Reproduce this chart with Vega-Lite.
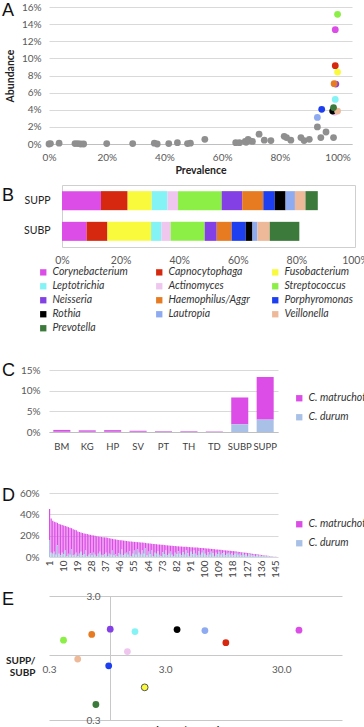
{
  "$schema": "https://vega.github.io/schema/vega-lite/v6.json",
  "padding": {"left": 2, "top": 2, "right": 0, "bottom": 0},
  "config": {
    "font": "Lato",
    "view": {"stroke": null},
    "axis": {
      "labelFont": "Lato", "labelFontSize": 10, "labelColor": "#595959", "labelFlush": false, "labelOverlap": false,
      "titleFont": "Lato", "titleFontSize": 10.5, "titleColor": "#222222", "titleFontWeight": "bold",
      "gridColor": "#d9d9d9", "domainColor": "#bfbfbf", "ticks": false
    },
    "legend": {
      "labelFont": "Lato", "labelFontSize": 10.5, "labelFontStyle": "italic", "labelColor": "#333333",
      "symbolType": "square", "symbolStrokeWidth": 0, "symbolSize": 40, "title": null
    },
    "title": {
      "font": "Liberation Sans", "fontSize": 18, "fontWeight": "normal", "color": "#111111",
      "anchor": "start", "frame": "group", "dx": -47
    }
  },
  "datasets": {
    "genera": [
      {"genus": "Corynebacterium", "k": 1, "prev": 0.992, "abund": 13.35, "supp": 13.3, "subp": 8.4, "pnp": 42.6, "ratio": 1.59},
      {"genus": "Capnocytophaga", "k": 2, "prev": 0.992, "abund": 9.15, "supp": 9.1, "subp": 7.1, "pnp": 10.0, "ratio": 1.26},
      {"genus": "Fusobacterium", "k": 3, "prev": 1.0, "abund": 8.4, "supp": 8.2, "subp": 14.9, "pnp": 2.0, "ratio": 0.55},
      {"genus": "Leptotrichia", "k": 4, "prev": 0.992, "abund": 5.2, "supp": 5.4, "subp": 3.5, "pnp": 1.65, "ratio": 1.55},
      {"genus": "Actinomyces", "k": 5, "prev": 0.99, "abund": 3.7, "supp": 3.6, "subp": 3.2, "pnp": 1.42, "ratio": 1.07},
      {"genus": "Streptococcus", "k": 6, "prev": 1.0, "abund": 15.15, "supp": 14.9, "subp": 11.6, "pnp": 0.4, "ratio": 1.32},
      {"genus": "Neisseria", "k": 7, "prev": 0.994, "abund": 7.0, "supp": 7.0, "subp": 4.1, "pnp": 1.01, "ratio": 1.62},
      {"genus": "Haemophilus/Aggr", "k": 8, "prev": 0.988, "abund": 7.05, "supp": 7.2, "subp": 5.1, "pnp": 0.7, "ratio": 1.47},
      {"genus": "Porphyromonas", "k": 9, "prev": 0.945, "abund": 4.05, "supp": 3.9, "subp": 4.8, "pnp": 0.98, "ratio": 0.82},
      {"genus": "Rothia", "k": 10, "prev": 0.983, "abund": 3.85, "supp": 3.7, "subp": 2.3, "pnp": 3.8, "ratio": 1.61},
      {"genus": "Lautropia", "k": 11, "prev": 0.93, "abund": 3.1, "supp": 3.2, "subp": 1.7, "pnp": 6.6, "ratio": 1.58},
      {"genus": "Veillonella", "k": 12, "prev": 1.0, "abund": 3.85, "supp": 3.6, "subp": 4.2, "pnp": 0.53, "ratio": 0.93},
      {"genus": "Prevotella", "k": 13, "prev": 0.986, "abund": 4.25, "supp": 4.2, "subp": 10.1, "pnp": 0.76, "ratio": 0.4}
    ],
    "others": [
      {"prev": 0.0, "abund": 0.0}, {"prev": 0.005, "abund": 0.05}, {"prev": 0.035, "abund": 0.1},
      {"prev": 0.09, "abund": 0.05}, {"prev": 0.10, "abund": 0.05}, {"prev": 0.11, "abund": 0.0},
      {"prev": 0.12, "abund": 0.0}, {"prev": 0.20, "abund": 0.05}, {"prev": 0.29, "abund": 0.05},
      {"prev": 0.365, "abund": 0.1}, {"prev": 0.375, "abund": 0.0}, {"prev": 0.415, "abund": 0.05},
      {"prev": 0.445, "abund": 0.15}, {"prev": 0.48, "abund": 0.05}, {"prev": 0.49, "abund": 0.1},
      {"prev": 0.54, "abund": 0.55}, {"prev": 0.647, "abund": 0.15}, {"prev": 0.66, "abund": 0.15},
      {"prev": 0.68, "abund": 0.3}, {"prev": 0.683, "abund": 0.2}, {"prev": 0.69, "abund": 0.55},
      {"prev": 0.694, "abund": 0.4}, {"prev": 0.705, "abund": 0.3}, {"prev": 0.728, "abund": 1.15},
      {"prev": 0.746, "abund": 0.45}, {"prev": 0.769, "abund": 0.4}, {"prev": 0.815, "abund": 0.9},
      {"prev": 0.823, "abund": 0.75}, {"prev": 0.838, "abund": 0.45}, {"prev": 0.873, "abund": 0.75},
      {"prev": 0.884, "abund": 0.4}, {"prev": 0.902, "abund": 0.55}, {"prev": 0.93, "abund": 2.0},
      {"prev": 0.942, "abund": 0.75}, {"prev": 0.96, "abund": 1.4}, {"prev": 0.986, "abund": 0.75}
    ],
    "sites": [
      {"site": "BM", "m": 0.45, "d": 0.05}, {"site": "KG", "m": 0.35, "d": 0.05},
      {"site": "HP", "m": 0.4, "d": 0.05}, {"site": "SV", "m": 0.25, "d": 0.05},
      {"site": "PT", "m": 0.15, "d": 0.05}, {"site": "TH", "m": 0.15, "d": 0.03},
      {"site": "TD", "m": 0.1, "d": 0.02}, {"site": "SUBP", "m": 6.5, "d": 1.85},
      {"site": "SUPP", "m": 10.3, "d": 3.0}
    ],
    "samples": [
      {"n":1,"m":29,"d":16},{"n":2,"m":32,"d":4},{"n":3,"m":31,"d":3},{"n":4,"m":28,"d":5},{"n":5,"m":30.5,"d":2},
      {"n":6,"m":21,"d":11},{"n":7,"m":28,"d":3},{"n":8,"m":29,"d":1.5},{"n":9,"m":26,"d":4},{"n":10,"m":27,"d":2.5},
      {"n":11,"m":23,"d":6},{"n":12,"m":27.5,"d":1},{"n":13,"m":25,"d":3},{"n":14,"m":25.5,"d":2},{"n":15,"m":20,"d":7},
      {"n":16,"m":24.5,"d":1.5},{"n":17,"m":23.5,"d":2},{"n":18,"m":21,"d":4},{"n":19,"m":23,"d":1},{"n":20,"m":20.5,"d":3},
      {"n":21,"m":18,"d":5},{"n":22,"m":21,"d":1.5},{"n":23,"m":19.5,"d":2.5},{"n":24,"m":15.8,"d":6},{"n":25,"m":20.5,"d":1},
      {"n":26,"m":19,"d":2},{"n":27,"m":17.3,"d":3.5},{"n":28,"m":19,"d":1.5},{"n":29,"m":16.2,"d":4},{"n":30,"m":18,"d":2},
      {"n":31,"m":18.5,"d":1},{"n":32,"m":16.2,"d":3},{"n":33,"m":14,"d":5},{"n":34,"m":16.8,"d":2},{"n":35,"m":17.1,"d":1.5},
      {"n":36,"m":15.9,"d":2.5},{"n":37,"m":14.2,"d":4},{"n":38,"m":17,"d":1},{"n":39,"m":14.6,"d":3},{"n":40,"m":15.3,"d":2},
      {"n":41,"m":11,"d":6},{"n":42,"m":15.2,"d":1.5},{"n":43,"m":14,"d":2.5},{"n":44,"m":15.2,"d":1},{"n":45,"m":12.5,"d":3.5},
      {"n":46,"m":13.8,"d":2},{"n":47,"m":8.6,"d":7},{"n":48,"m":13.9,"d":1.5},{"n":49,"m":12.2,"d":3},{"n":50,"m":11,"d":4},
      {"n":51,"m":12.8,"d":2},{"n":52,"m":9.1,"d":5.5},{"n":53,"m":13.5,"d":1},{"n":54,"m":11.3,"d":3},{"n":55,"m":8.2,"d":6},
      {"n":56,"m":12,"d":2},{"n":57,"m":6.4,"d":7.5},{"n":58,"m":9.8,"d":4},{"n":59,"m":11.6,"d":2},{"n":60,"m":7.5,"d":6},
      {"n":61,"m":10.3,"d":3},{"n":62,"m":5.2,"d":8},{"n":63,"m":11.5,"d":1.5},{"n":64,"m":7.8,"d":5},{"n":65,"m":10.1,"d":2.5},
      {"n":66,"m":6,"d":6.5},{"n":67,"m":11.3,"d":1},{"n":68,"m":8.2,"d":4},{"n":69,"m":9,"d":3},{"n":70,"m":6.3,"d":5.5},
      {"n":71,"m":9.7,"d":2},{"n":72,"m":10.5,"d":1},{"n":73,"m":6.9,"d":4.5},{"n":74,"m":8.7,"d":2.5},{"n":75,"m":5,"d":6},
      {"n":76,"m":9.4,"d":1.5},{"n":77,"m":7.8,"d":3},{"n":78,"m":5.6,"d":5},{"n":79,"m":8.5,"d":2},{"n":80,"m":9.4,"d":1},
      {"n":81,"m":6.3,"d":4},{"n":82,"m":7.6,"d":2.5},{"n":83,"m":4.5,"d":5.5},{"n":84,"m":6.9,"d":3},{"n":85,"m":8.3,"d":1.5},
      {"n":86,"m":5.2,"d":4.5},{"n":87,"m":7.6,"d":2},{"n":88,"m":3.5,"d":6},{"n":89,"m":5.9,"d":3.5},{"n":90,"m":8.3,"d":1},
      {"n":91,"m":4.2,"d":5},{"n":92,"m":6.6,"d":2.5},{"n":93,"m":3,"d":6},{"n":94,"m":5.9,"d":3},{"n":95,"m":7.3,"d":1.5},
      {"n":96,"m":3.2,"d":5.5},{"n":97,"m":6.5,"d":2},{"n":98,"m":4.4,"d":4},{"n":99,"m":2.3,"d":6},{"n":100,"m":5.2,"d":3},
      {"n":101,"m":6.5,"d":1.5},{"n":102,"m":3.4,"d":4.5},{"n":103,"m":5.7,"d":2},{"n":104,"m":2.6,"d":5},{"n":105,"m":3.9,"d":3.5},
      {"n":106,"m":6.3,"d":1},{"n":107,"m":3.1,"d":4},{"n":108,"m":4.5,"d":2.5},{"n":109,"m":1.8,"d":5},{"n":110,"m":4.7,"d":2},
      {"n":111,"m":3,"d":3.5},{"n":112,"m":1.9,"d":4.5},{"n":113,"m":4.7,"d":1.5},{"n":114,"m":3.1,"d":3},{"n":115,"m":1.9,"d":4},
      {"n":116,"m":3.8,"d":2},{"n":117,"m":2.1,"d":3.5},{"n":118,"m":4,"d":1.5},{"n":119,"m":2.3,"d":3},{"n":120,"m":1.1,"d":4},
      {"n":121,"m":2.9,"d":2},{"n":122,"m":1.7,"d":3},{"n":123,"m":3,"d":1.5},{"n":124,"m":0.8,"d":3.5},{"n":125,"m":2.1,"d":2},
      {"n":126,"m":1.4,"d":2.5},{"n":127,"m":2.7,"d":1},{"n":128,"m":1,"d":2.5},{"n":129,"m":1.3,"d":2},{"n":130,"m":1.6,"d":1.5},
      {"n":131,"m":0.9,"d":2},{"n":132,"m":1.7,"d":1},{"n":133,"m":0.7,"d":1.8},{"n":134,"m":1.1,"d":1.2},{"n":135,"m":0.6,"d":1.5},
      {"n":136,"m":1.1,"d":0.8},{"n":137,"m":0.5,"d":1.2},{"n":138,"m":0.5,"d":1},{"n":139,"m":0.7,"d":0.6},{"n":140,"m":0.3,"d":0.8},
      {"n":141,"m":0.4,"d":0.5},{"n":142,"m":0.3,"d":0.4},{"n":143,"m":0.2,"d":0.3},{"n":144,"m":0.15,"d":0.2},{"n":145,"m":0.1,"d":0.1},
      {"n":146,"m":0.05,"d":0.05}
    ]
  },
  "bounds": "flush",
  "spacing": 0,
  "resolve": {"scale": {"color": "independent"}, "legend": {"color": "independent"}},
  "vconcat": [
    {
      "title": {"text": "A", "offset": -18},
      "width": 303,
      "height": 137,
      "encoding": {
        "x": {
          "field": "prev", "type": "quantitative",
          "scale": {"domain": [0, 1.05], "nice": false},
          "axis": {"values": [0, 0.2, 0.4, 0.6, 0.8, 1], "format": ".0%", "grid": false, "domain": true,
                   "labelPadding": 8, "title": "Prevalence", "titlePadding": 3}
        },
        "y": {
          "field": "abund", "type": "quantitative",
          "scale": {"domain": [0, 16], "nice": false},
          "axis": {"values": [0, 2, 4, 6, 8, 10, 12, 14, 16], "labelExpr": "datum.value + '%'", "labelOverlap": false,
                   "grid": true, "domain": false, "labelPadding": 8, "title": "Abundance", "titlePadding": 6}
        }
      },
      "layer": [
        {
          "data": {"name": "others"},
          "mark": {"type": "circle", "size": 46, "opacity": 1, "color": "#8f8f8f"}
        },
        {
          "data": {"name": "genera"},
          "mark": {"type": "circle", "size": 46, "opacity": 1},
          "encoding": {
            "color": {
              "field": "genus", "type": "nominal",
              "scale": {
                "domain": ["Corynebacterium", "Capnocytophaga", "Fusobacterium", "Leptotrichia", "Actinomyces", "Streptococcus", "Neisseria", "Haemophilus/Aggr", "Porphyromonas", "Rothia", "Lautropia", "Veillonella", "Prevotella"],
                "range": ["#db4de6", "#d6280e", "#fafa3c", "#84f3f5", "#efc6ee", "#8bef46", "#8341e5", "#e77b22", "#1e3ff0", "#000000", "#8eabf1", "#edb998", "#3c7a3c"]
              },
              "legend": null
            }
          }
        }
      ]
    },
    {"width": 1, "height": 41, "data": {"values": []}, "mark": "point"},
    {
      "title": {"text": "B", "offset": -20},
      "width": 306,
      "height": 62,
      "data": {"name": "genera"},
      "transform": [{"fold": ["supp", "subp"], "as": ["site", "v"]}],
      "layer": [
        {
          "mark": {"type": "bar"},
          "encoding": {
            "y": {
              "field": "site", "type": "nominal", "sort": ["supp", "subp"],
              "scale": {"paddingInner": 0.38, "paddingOuter": 0.2},
              "axis": {"title": null, "labelExpr": "upper(datum.label)", "labelFontSize": 10.5, "labelColor": "#222222",
                       "labelPadding": -1, "domain": false, "ticks": false}
            },
            "x": {
              "field": "v", "type": "quantitative", "stack": "zero",
              "scale": {"domain": [0, 100], "range": [13, 306], "nice": false},
              "axis": {"values": [0, 20, 40, 60, 80, 100], "labelExpr": "datum.value + '%'", "title": null,
                       "grid": true, "gridColor": "#cfcfcf",
                       "gridOpacity": {"condition": {"test": "datum.value == 0 || datum.value == 100", "value": 1}, "value": 0},
                       "domain": true, "domainColor": "#cfcfcf", "labelPadding": 8, "labelFontSize": 10.5}
            },
            "color": {
              "field": "genus", "type": "nominal",
              "scale": {
                "domain": ["Corynebacterium", "Capnocytophaga", "Fusobacterium", "Leptotrichia", "Actinomyces", "Streptococcus", "Neisseria", "Haemophilus/Aggr", "Porphyromonas", "Rothia", "Lautropia", "Veillonella", "Prevotella"],
                "range": ["#db4de6", "#d6280e", "#fafa3c", "#84f3f5", "#efc6ee", "#8bef46", "#8341e5", "#e77b22", "#1e3ff0", "#000000", "#8eabf1", "#edb998", "#3c7a3c"]
              },
              "legend": {"orient": "none", "legendX": -11, "legendY": 82, "columns": 3, "direction": "horizontal",
                         "gridAlign": "all", "columnPadding": 20, "rowPadding": 3, "labelLimit": 110, "labelOffset": 4}
            },
            "order": {"field": "k", "type": "quantitative"}
          }
        },
        {
          "mark": {"type": "bar", "opacity": 0},
          "encoding": {
            "y": {"field": "site", "type": "nominal", "sort": ["supp", "subp"]},
            "x": {
              "field": "v", "type": "quantitative", "stack": "zero",
              "axis": {"orient": "top", "labels": false, "grid": false, "domain": true, "domainColor": "#cfcfcf", "title": null}
            },
            "order": {"field": "k", "type": "quantitative"}
          }
        }
      ],
      "resolve": {"axis": {"x": "independent"}}
    },
    {"width": 1, "height": 123, "data": {"values": []}, "mark": "point"},
    {
      "title": {"text": "C", "offset": -15},
      "width": 229,
      "height": 62,
      "data": {"name": "sites"},
      "transform": [{"fold": ["m", "d"], "as": ["sp", "v"]}],
      "mark": {"type": "bar"},
      "encoding": {
        "x": {
          "field": "site", "type": "nominal", "sort": null,
          "scale": {"paddingInner": 0.33, "paddingOuter": 0.17},
          "axis": {"title": null, "labelAngle": 0, "labelColor": "#404040", "labelPadding": 9, "labelFontSize": 9.5, "domain": true}
        },
        "y": {
          "field": "v", "type": "quantitative", "stack": "zero",
          "scale": {"domain": [0, 15], "nice": false},
          "axis": {"values": [0, 5, 10, 15], "labelExpr": "datum.value + '%'", "title": null, "grid": true,
                   "domain": false, "labelPadding": 9}
        },
        "color": {
          "field": "sp", "type": "nominal",
          "scale": {"domain": ["m", "d"], "range": ["#dc4ce6", "#a9c1e6"]},
          "legend": {"orient": "none", "legendX": 245, "legendY": 23, "rowPadding": 8,
                     "labelExpr": "datum.label == 'm' ? 'C. matruchotii' : 'C. durum'", "labelFontSize": 10.5}
        },
        "order": {"field": "sp", "sort": "ascending"}
      }
    },
    {"width": 1, "height": 61, "data": {"values": []}, "mark": "point"},
    {
      "title": {"text": "D", "offset": -17},
      "width": 229,
      "height": 64,
      "data": {"name": "samples"},
      "transform": [{"fold": ["m", "d"], "as": ["sp", "v"]}],
      "mark": {"type": "bar"},
      "encoding": {
        "x": {
          "field": "n", "type": "ordinal",
          "scale": {"paddingInner": 0.25, "paddingOuter": 0},
          "axis": {"title": null, "values": [1, 10, 19, 28, 37, 46, 55, 64, 73, 82, 91, 100, 109, 118, 127, 136, 145],
                   "labelAngle": -90, "labelColor": "#404040", "labelPadding": 3, "domain": false}
        },
        "y": {
          "field": "v", "type": "quantitative", "stack": "zero",
          "scale": {"domain": [0, 60], "nice": false},
          "axis": {"values": [0, 20, 40, 60], "labelExpr": "datum.value + '%'", "title": null, "grid": true,
                   "domain": false, "labelPadding": 10}
        },
        "color": {
          "field": "sp", "type": "nominal",
          "scale": {"domain": ["m", "d"], "range": ["#dc4ce6", "#a9c1e6"]},
          "legend": {"orient": "none", "legendX": 245, "legendY": 26, "rowPadding": 8,
                     "labelExpr": "datum.label == 'm' ? 'C. matruchotii' : 'C. durum'", "labelFontSize": 10.5}
        },
        "order": {"field": "sp", "sort": "ascending"}
      }
    },
    {"width": 1, "height": 39, "data": {"values": []}, "mark": "point"},
    {
      "title": {"text": "E", "offset": -18},
      "width": 293,
      "height": 124,
      "data": {"name": "genera"},
      "mark": {"type": "circle", "size": 46, "opacity": 1, "stroke": "#555555"},
      "encoding": {
        "x": {
          "field": "pnp", "type": "quantitative",
          "scale": {"type": "log", "domain": [0.3, 100], "nice": false},
          "axis": {"values": [0.3, 1, 3, 30], "labelExpr": "datum.value == 1 ? '' : format(datum.value, '.1f')",
                   "offset": -65, "domain": false, "grid": true, "gridColor": "#c8c8c8",
                   "gridOpacity": {"condition": {"test": "datum.value == 1", "value": 1}, "value": 0},
                   "labelPadding": 9, "title": "Plaque/Non-Plaque", "titleY": 71, "titleFontSize": 10.5}
        },
        "y": {
          "field": "ratio", "type": "quantitative",
          "scale": {"type": "log", "domain": [0.3, 3], "nice": false},
          "axis": {"values": [0.3, 1, 3], "labelExpr": "datum.value == 1 ? '' : format(datum.value, '.1f')",
                   "offset": -61, "domain": false, "grid": true, "gridColor": "#c8c8c8", "labelPadding": 10,
                   "title": ["SUPP/", "SUBP"], "titleAngle": 0, "titleAlign": "right", "titleBaseline": "middle",
                   "titleX": -75, "titleY": 64, "titleLineHeight": 12, "titleFontSize": 10}
        },
        "color": {
          "field": "genus", "type": "nominal",
          "scale": {
            "domain": ["Corynebacterium", "Capnocytophaga", "Fusobacterium", "Leptotrichia", "Actinomyces", "Streptococcus", "Neisseria", "Haemophilus/Aggr", "Porphyromonas", "Rothia", "Lautropia", "Veillonella", "Prevotella"],
            "range": ["#db4de6", "#d6280e", "#fafa3c", "#84f3f5", "#efc6ee", "#8bef46", "#8341e5", "#e77b22", "#1e3ff0", "#000000", "#8eabf1", "#edb998", "#3c7a3c"]
          },
          "legend": null
        },
        "strokeWidth": {"condition": {"test": "datum.genus == 'Fusobacterium'", "value": 1}, "value": 0}
      }
    }
  ]
}
